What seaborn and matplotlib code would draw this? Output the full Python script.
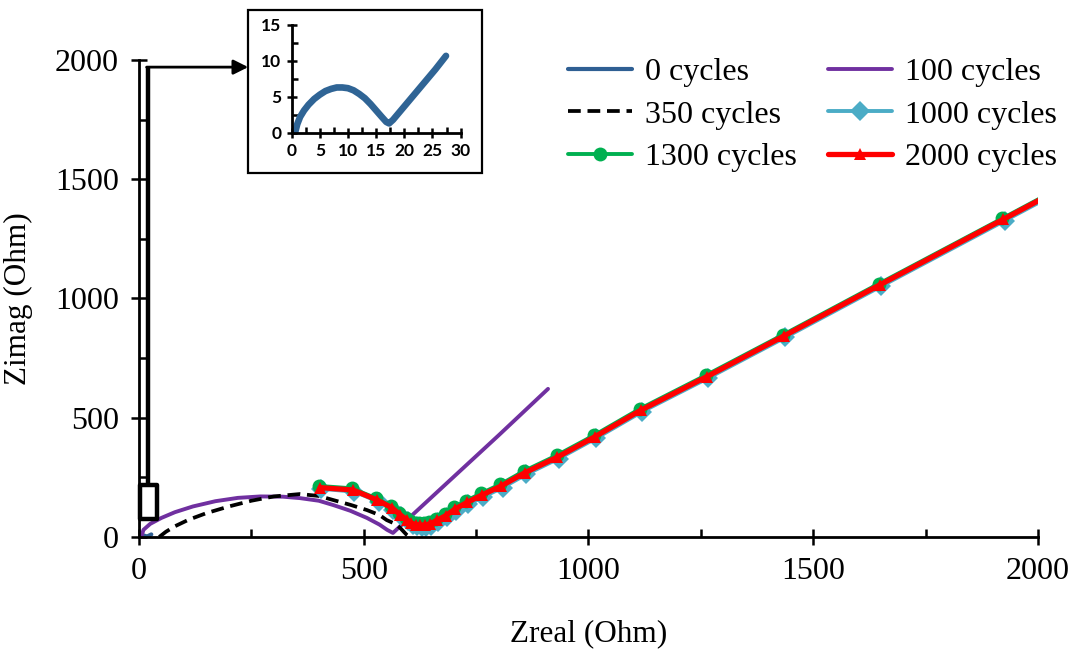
import numpy as np
import pandas as pd
import matplotlib
matplotlib.use("Agg")
import matplotlib.pyplot as plt
from matplotlib.patches import Rectangle
from matplotlib.ticker import MultipleLocator
import seaborn as sns

# ---------------- data ----------------
c0_x = [0.6, 1.0, 1.5, 2.2, 3.0, 4.0, 5.0, 6.0, 7.0, 8.0, 9.0, 10.0, 11.0, 12.0, 13.0,
        14.0, 15.0, 16.0, 16.8, 17.3, 18.0, 19.5, 21.0, 22.5, 24.0, 25.5, 27.4]
c0_y = [0.0, 1.2, 2.2, 3.1, 3.9, 4.7, 5.3, 5.8, 6.1, 6.3, 6.3, 6.2, 5.9, 5.4, 4.8,
        4.0, 3.1, 2.2, 1.5, 1.3, 1.8, 3.2, 4.6, 6.0, 7.4, 8.8, 10.7]

c100_x = [5, 10, 25, 50, 80, 120, 170, 220, 270, 320, 358, 400, 432, 470, 507, 535, 552, 565,
          600, 700, 800, 910]
c100_y = [0, 30, 55, 80, 104, 128, 150, 164, 170, 169, 163, 152, 134, 110, 80, 52, 30, 17,
          78, 252, 426, 621]

c350_x = [45, 60, 80, 110, 150, 200, 250, 300, 358, 400, 432, 470, 507, 535, 551, 570, 581, 596, 602]
c350_y = [0, 22, 45, 72, 100, 128, 152, 170, 180, 172, 155, 135, 113, 92, 71, 55, 38, 8, 0]

c1000_x = [406, 479, 533, 566, 584, 599, 609, 619, 629, 639, 650, 666, 686, 706, 733, 766, 809,
           862, 934, 1017, 1120, 1266, 1438, 1651, 1926, 2253]
c1000_y = [202, 190, 148, 115, 86, 65, 50, 44, 42, 42, 48, 63, 83, 110, 138, 168, 207,
           263, 329, 414, 526, 666, 837, 1051, 1326, 1654]

c1300_x = [401, 474, 528, 561, 579, 594, 604, 614, 624, 634, 645, 661, 681, 701, 728, 761, 804,
           857, 929, 1012, 1115, 1261, 1433, 1646, 1921, 2248]
c1300_y = [214, 204, 162, 129, 100, 79, 65, 59, 57, 57, 62, 77, 97, 124, 152, 183, 221,
           277, 342, 426, 538, 678, 848, 1062, 1336, 1664]

c2000_x = [403, 476, 530, 563, 581, 596, 606, 616, 626, 636, 647, 663, 683, 703, 730, 763, 806,
           859, 931, 1014, 1117, 1263, 1435, 1648, 1923, 2250]
c2000_y = [207, 197, 155, 122, 93, 72, 58, 52, 50, 50, 55, 70, 90, 117, 145, 176, 214,
           270, 335, 420, 532, 672, 843, 1057, 1332, 1660]

series_labels = ["0 cycles", "100 cycles", "350 cycles", "1000 cycles", "1300 cycles", "2000 cycles"]
x_ticks = [0, 500, 1000, 1500, 2000]
y_ticks = [0, 500, 1000, 1500, 2000]
inset_x_ticks = [0, 5, 10, 15, 20, 25, 30]
inset_y_ticks = [0, 5, 10, 15]

# ---------------- style ----------------
sns.set_theme(style="white")
plt.rcParams["font.family"] = ["Liberation Serif", "DejaVu Serif"]
plt.rcParams["axes.edgecolor"] = "black"
plt.rcParams["text.color"] = "black"
plt.rcParams["axes.labelcolor"] = "black"
plt.rcParams["xtick.color"] = "black"
plt.rcParams["ytick.color"] = "black"

fig = plt.figure(figsize=(10.79, 6.49), dpi=100)
ax = fig.add_axes([0.1288, 0.1726, 0.962 - 0.1288, 0.9076 - 0.1726])

def df(x, y):
    return pd.DataFrame({"x": x, "y": y})

sns.lineplot(data=df(c0_x, c0_y), x="x", y="y", ax=ax, sort=False, estimator=None,
             color="#2F5F93", lw=3, label=series_labels[0])
sns.lineplot(data=df(c100_x, c100_y), x="x", y="y", ax=ax, sort=False, estimator=None,
             color="#7030A0", lw=2.8, label=series_labels[1])
sns.lineplot(data=df(c350_x, c350_y), x="x", y="y", ax=ax, sort=False, estimator=None,
             color="black", lw=2.7, linestyle=(0, (3.4, 1.8)), label=series_labels[2])
sns.lineplot(data=df(c1000_x, c1000_y), x="x", y="y", ax=ax, sort=False, estimator=None,
             color="#4BACC6", lw=2.8, marker="D", markersize=10, markeredgewidth=0,
             label=series_labels[3])
sns.lineplot(data=df(c1300_x, c1300_y), x="x", y="y", ax=ax, sort=False, estimator=None,
             color="#00B050", lw=2.8, marker="o", markersize=10, markeredgewidth=0,
             label=series_labels[4])
sns.lineplot(data=df(c2000_x, c2000_y), x="x", y="y", ax=ax, sort=False, estimator=None,
             color="#FF0000", lw=3.8, marker="^", markersize=9, markeredgewidth=0,
             label=series_labels[5])

ax.set_xlim(0, 2000)
ax.set_ylim(0, 2000)
ax.set_xticks(x_ticks)
ax.set_yticks(y_ticks)
ax.xaxis.set_minor_locator(MultipleLocator(250))
ax.yaxis.set_minor_locator(MultipleLocator(250))
for s in ["top", "right"]:
    ax.spines[s].set_visible(False)
for s in ["left", "bottom"]:
    ax.spines[s].set_linewidth(2)
    ax.spines[s].set_color("black")
ax.tick_params(which="major", direction="inout", length=11, width=1.8, labelsize=23,
               pad=9, color="black", labelcolor="black", bottom=True, left=True)
ax.tick_params(which="minor", direction="in", length=6, width=1.8, color="black",
               bottom=True, left=True)
ax.set_xlabel("Zreal (Ohm)", fontsize=22.5, labelpad=24, color="black")
ax.set_ylabel("Zimag (Ohm)", fontsize=22.5, labelpad=16, color="black")
ax.grid(False)

# legend: order rows as in reference
handles, labels = ax.get_legend_handles_labels()
order = [0, 2, 4, 1, 3, 5]
ax.legend([handles[i] for i in order], [labels[i] for i in order], ncol=2, frameon=False,
          fontsize=23, loc="upper left", bbox_to_anchor=(0.5115, 0.936),
          bbox_transform=fig.transFigure, handlelength=2.0, handletextpad=0.4,
          columnspacing=1.0, labelspacing=0.42, borderpad=0)

# zoom box and connector arrow
box_x0, box_y0, box_w, box_h = 2, 75, 38, 143
ax.add_patch(Rectangle((box_x0, box_y0), box_w, box_h, fill=False, edgecolor="black",
                       lw=3.2, joinstyle="round", clip_on=False, zorder=5))
conn_x, conn_top, arrow_end = 20, 1970, 243
ax.plot([conn_x, conn_x], [box_y0 + box_h, conn_top], color="black", lw=3.2,
        solid_capstyle="butt", zorder=5)
ax.annotate("", xy=(arrow_end, conn_top), xytext=(conn_x - 3, conn_top),
            arrowprops=dict(arrowstyle="-|>", color="black", lw=2, shrinkA=0, shrinkB=0,
                            mutation_scale=22), zorder=5)

# inset frame
fig.patches.append(Rectangle((0.2298, 0.7334), 0.2166, 0.2512, transform=fig.transFigure,
                             facecolor="white", edgecolor="black", lw=1.6, zorder=1))

ins = fig.add_axes([0.2703, 0.7955, 0.1566, 0.166], zorder=2)
ins.patch.set_alpha(0)
sns.lineplot(data=df(c0_x, c0_y), x="x", y="y", ax=ins, sort=False, estimator=None,
             color="#2F6495", lw=4.8, solid_capstyle="round", legend=False)
ins.set_xlim(0, 30)
ins.set_ylim(0, 15)
ins.set_xticks(inset_x_ticks)
ins.set_yticks(inset_y_ticks)
ins.xaxis.set_minor_locator(MultipleLocator(2.5))
ins.yaxis.set_minor_locator(MultipleLocator(2.5))
for s in ["top", "right"]:
    ins.spines[s].set_visible(False)
for s in ["left", "bottom"]:
    ins.spines[s].set_linewidth(2)
    ins.spines[s].set_color("black")
ins.tick_params(which="major", direction="inout", length=7, width=1.8, labelsize=12.5,
                pad=4, color="black", labelcolor="black", bottom=True, left=True)
ins.tick_params(which="minor", direction="in", length=4, width=1.8, color="black",
                bottom=True, left=True)
for lab in ins.get_xticklabels() + ins.get_yticklabels():
    lab.set_family(["Lato", "DejaVu Sans"])
    lab.set_fontweight("bold")
ins.set_xlabel("")
ins.set_ylabel("")
ins.grid(False)

fig.savefig("out.png", dpi=100)
